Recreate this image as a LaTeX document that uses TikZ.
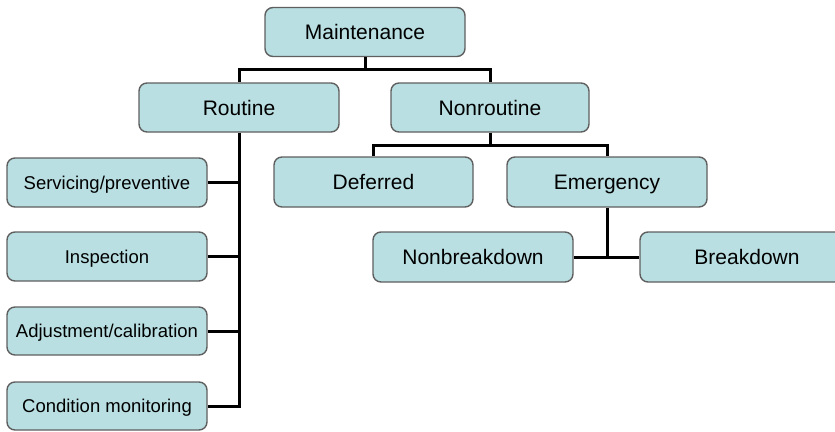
\documentclass[tikz,border=0pt]{standalone}
\usepackage{fontspec}
\setmainfont{Liberation Sans}
\begin{document}
\begin{tikzpicture}[x=1pt,y=-1pt,
  box/.style={draw=boxedge, line width=1.4pt, fill=boxfill, rounded corners=8pt,
    minimum width=200pt, minimum height=49pt, inner sep=0pt, text=black,
    text height=15pt, text depth=0pt,
    font=\fontsize{21}{24}\selectfont},
  smallbox/.style={box, text height=13.2pt, font=\fontsize{18.5}{22}\selectfont},
  link/.style={draw=black, line width=3pt}]
\definecolor{boxfill}{RGB}{185,223,226}
\definecolor{boxedge}{RGB}{95,95,95}
\useasboundingbox (0,0) rectangle (835,431);

% top level
\node[box] (maint) at (365,32) {Maintenance};
\node[box] (routine) at (239,107.5) {Routine};
\node[box, minimum width=198pt] (nonroutine) at (490,107.5) {Nonroutine};

% routine branch
\node[smallbox] (serv) at (107,182.5) {Servicing/preventive};
\node[smallbox] (insp) at (107,256.5) {Inspection};
\node[smallbox, minimum height=48pt] (adj) at (107,331) {Adjustment/calibration};
\node[smallbox, minimum height=48pt] (cond) at (107,406) {Condition monitoring};

% nonroutine branch
\node[box, minimum width=199pt, minimum height=50pt] (deferred) at (373.5,182) {Deferred};
\node[box, minimum height=50pt] (emergency) at (607,182) {Emergency};
\node[box, minimum height=50pt] (nonbreak) at (473,257) {Nonbreakdown};
\node[box, minimum width=214pt, minimum height=50pt] (breakdown) at (747,257) {Breakdown};

% junction points of the tree
\coordinate (j1) at (365,69);
\coordinate (j2) at (490,145);

% connectors
\draw[link] (maint.south) -- (j1);
\draw[link] (routine.north) |- (j1) -| (nonroutine.north);
\draw[link] (routine.south) |- (cond.east);
\draw[link] (serv.east) -- (serv.east -| routine.south);
\draw[link] (insp.east) -- (insp.east -| routine.south);
\draw[link] (adj.east) -- (adj.east -| routine.south);
\draw[link] (nonroutine.south) -- (j2);
\draw[link] (deferred.north) |- (j2) -| (emergency.north);
\draw[link] (nonbreak.east) -- (breakdown.west);
\draw[link] (emergency.south) -- (emergency.south |- nonbreak.east);
\end{tikzpicture}
\end{document}
